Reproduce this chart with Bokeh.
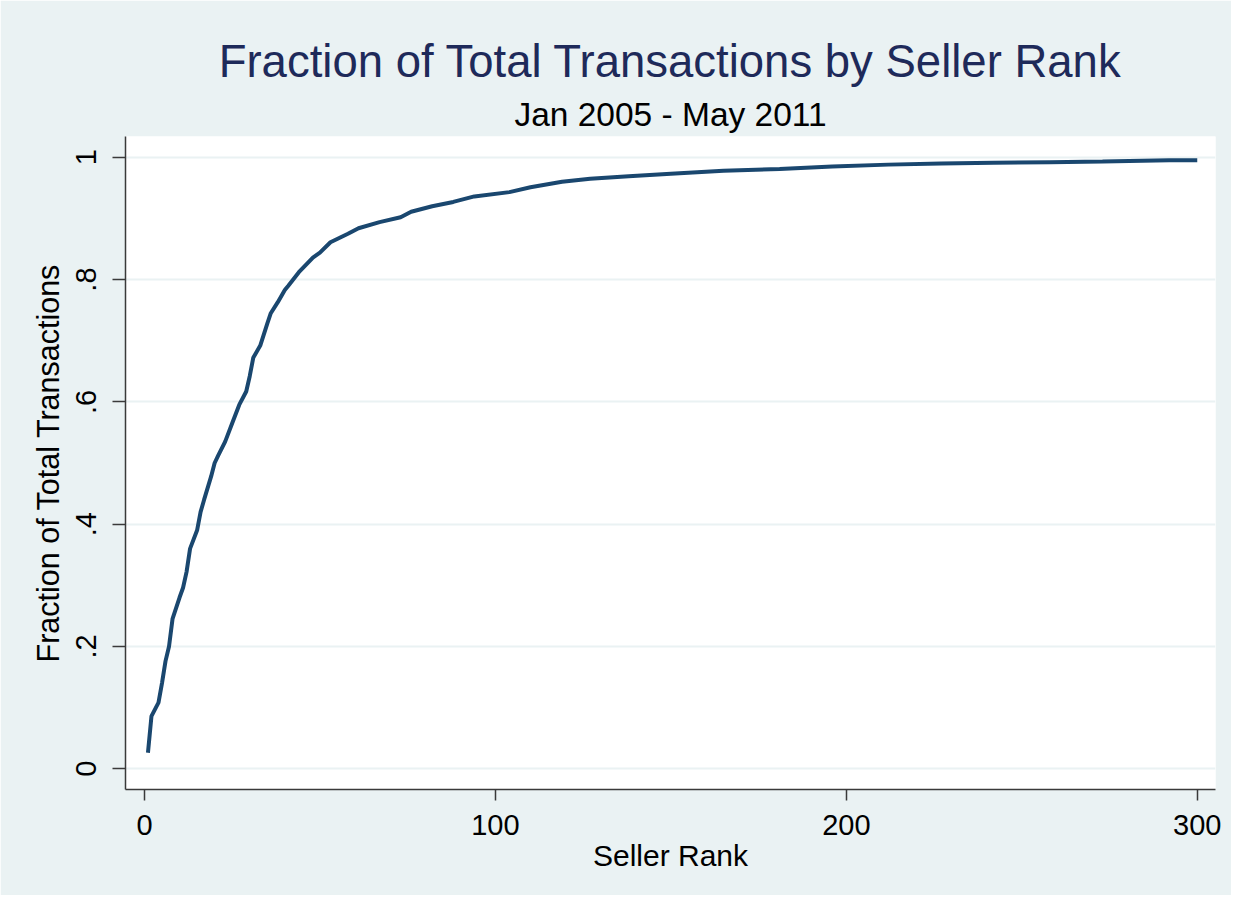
from bokeh.plotting import figure
from bokeh.models import Range1d, FixedTicker, Title, CustomJSTickFormatter
from bokeh.embed import file_html
from bokeh.resources import INLINE

# ---- data ----
seller_rank = [1, 2, 3, 4, 5, 6, 7, 8, 10, 11, 12, 13, 15, 16, 17, 19, 20, 21,
               23, 25, 27, 29, 30, 31, 33, 35, 36, 38, 40, 41, 44, 48, 50, 53,
               58, 61, 67, 73, 76, 82, 88, 94, 104, 110, 119, 127, 138, 150,
               165, 181, 196, 212, 227, 242, 258, 273, 292, 300]
fraction = [0.026, 0.086, 0.097, 0.108, 0.14, 0.176, 0.2, 0.245, 0.28, 0.296,
            0.322, 0.36, 0.39, 0.42, 0.44, 0.478, 0.5, 0.512, 0.535, 0.565,
            0.595, 0.617, 0.642, 0.672, 0.692, 0.728, 0.745, 0.763, 0.783,
            0.79, 0.812, 0.836, 0.844, 0.861, 0.875, 0.884, 0.894, 0.902,
            0.911, 0.92, 0.927, 0.936, 0.943, 0.951, 0.96, 0.965, 0.969,
            0.973, 0.978, 0.981, 0.985, 0.988, 0.99, 0.991, 0.992, 0.993,
            0.995, 0.995]

x_ticks = [0, 100, 200, 300]
y_ticks = [0, 0.2, 0.4, 0.6, 0.8, 1.0]
y_tick_labels = ["0", ".2", ".4", ".6", ".8", "1"]

title_text = "Fraction of Total Transactions by Seller Rank"
subtitle_text = "Jan 2005 - May 2011"
x_label = "Seller Rank"
y_label = "Fraction of Total Transactions"

BG = "#EAF2F3"
FONT = "Liberation Sans"

p = figure(width=1231, height=895, output_backend="svg", toolbar_location=None,
           title=None,
           x_range=Range1d(-5.4, 305.2), y_range=Range1d(-0.034, 1.034),
           min_border_left=125, min_border_right=16,
           min_border_top=136, min_border_bottom=106)

p.background_fill_color = "white"
p.border_fill_color = BG
p.outline_line_color = None

p.add_layout(Title(text=subtitle_text, align="center", text_font=FONT,
                   text_font_size="33.5px", text_font_style="normal",
                   text_color="black", standoff=7), "above")
p.add_layout(Title(text=title_text, align="center", text_font=FONT,
                   text_font_size="45.5px", text_font_style="normal",
                   text_color="#1E2A5A", standoff=8), "above")

p.line(seller_rank, fraction, line_color="#1A476F", line_width=4)

# grid
p.xgrid.visible = False
p.ygrid.ticker = FixedTicker(ticks=y_ticks)
p.ygrid.grid_line_color = BG
p.ygrid.grid_line_width = 2

# axes
for ax in (p.xaxis[0], p.yaxis[0]):
    ax.axis_line_color = "#3A3A3A"
    ax.axis_line_width = 1.5
    ax.major_tick_line_color = "#3A3A3A"
    ax.major_tick_line_width = 1.5
    ax.major_tick_in = 0
    ax.minor_tick_line_color = None
    ax.major_label_text_font = FONT
    ax.major_label_text_font_size = "29px"
    ax.major_label_text_color = "black"
    ax.axis_label_text_font = FONT
    ax.axis_label_text_font_style = "normal"
    ax.axis_label_text_color = "black"

p.xaxis.ticker = FixedTicker(ticks=x_ticks)
p.xaxis.major_tick_out = 11
p.xaxis.major_label_standoff = 14
p.xaxis.axis_label = x_label
p.xaxis.axis_label_text_font_size = "30px"
p.xaxis.axis_label_standoff = 1

p.yaxis.ticker = FixedTicker(ticks=y_ticks)
p.yaxis.formatter = CustomJSTickFormatter(
    args=dict(tvals=y_ticks, tlabels=y_tick_labels),
    code="""
for (let i = 0; i < tvals.length; i++) {
  if (Math.abs(tvals[i] - tick) < 1e-9) { return tlabels[i]; }
}
return String(tick);
""")
p.yaxis.major_label_orientation = "vertical"
p.yaxis.major_tick_out = 13
p.yaxis.major_label_standoff = 16
p.yaxis.axis_label = y_label
p.yaxis.axis_label_text_font_size = "30.5px"
p.yaxis.axis_label_standoff = 9

open("out.html", "w").write(file_html(p, INLINE))
